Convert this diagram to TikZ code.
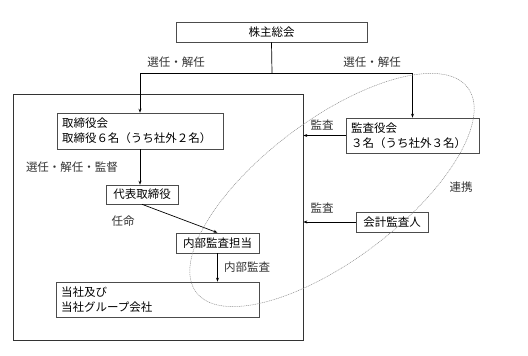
\documentclass[tikz,border=0pt]{standalone}
\usepackage{fontspec}
\newfontfamily\jpfont{Noto Sans CJK JP}
\usetikzlibrary{arrows.meta}

\tikzset{
  box/.style={draw=black!70, line width=0.6pt, inner sep=0pt, minimum height=20pt},
  boxleft/.style={box, align=left, inner xsep=5pt},
  lbl/.style={inner sep=1pt, text=black!80},
  conn/.style={line width=0.7pt, -{Stealth[length=4pt,width=3pt]}},
}

\begin{document}
\begin{tikzpicture}[x=1pt, y=-1pt, font=\jpfont\fontsize{11.5}{15}\selectfont]
\useasboundingbox (0,0) rectangle (528,356);

% Outer frame: company side
\node[draw=black!80, line width=0.7pt, minimum width=290pt, minimum height=246pt] (group) at (158,217) {};

% Boxes
\node[box, minimum width=191pt] (soukai) at (271.5,32) {株主総会};
\node[boxleft, minimum width=166pt, minimum height=36pt, text width=156pt] (board) at (140,131)
  {取締役会\\取締役６名（うち社外２名）};
\node[box, minimum width=72pt, minimum height=19pt] (daihyo) at (142,194.5) {代表取締役};
\node[box, minimum width=83pt] (naibu) at (217.5,243) {内部監査担当};
\node[boxleft, minimum width=203pt, minimum height=35pt, text width=193pt] (tosha) at (157.5,299.5)
  {当社及び\\当社グループ会社};
\node[boxleft, minimum width=133pt, minimum height=35pt, text width=123pt] (kansa) at (412.5,135.5)
  {監査役会\\ ３名（うち社外３名）};
\node[box, minimum width=72pt] (kaikei) at (392,222) {会計監査人};

% Election lines from the shareholders' meeting
\coordinate (split) at (272,73);
\draw[line width=0.7pt] (soukai.south) -- (split);
\draw[conn] (split) -| (board.north);
\draw[conn] (split) -| (kansa.north);
\node[lbl] (elect1) at (176,62) {選任・解任};
\node[lbl] (elect2) at (372,62) {選任・解任};

% Inside the company
\draw[conn] (board.south) -- (board.south |- daihyo.north);
\node[lbl] (supervise) at (72,167) {選任・解任・監督};
\draw[conn] (daihyo.south) -- (naibu.north);
\node[lbl] (appoint) at (123,221) {任命};
\draw[conn] (naibu.south) -- (naibu.south |- tosha.north);
\node[lbl] (internal) at (247,267) {内部監査};

% Audits from outside
\draw[conn] (kansa.west) -- (kansa.west -| group.east);
\node[lbl] (audit1) at (322,125) {監査};
\draw[conn] (kaikei.west) -- (kaikei.west -| group.east);
\node[lbl] (audit2) at (322,208) {監査};

% Cooperation ellipse
\draw[black!45, line width=0.5pt, dash pattern=on 1pt off 0.8pt, rotate around={37:(332,190)}]
  (332,190) ellipse (170 and 70);
\node[lbl] (coop) at (461,187) {連携};

\end{tikzpicture}
\end{document}
